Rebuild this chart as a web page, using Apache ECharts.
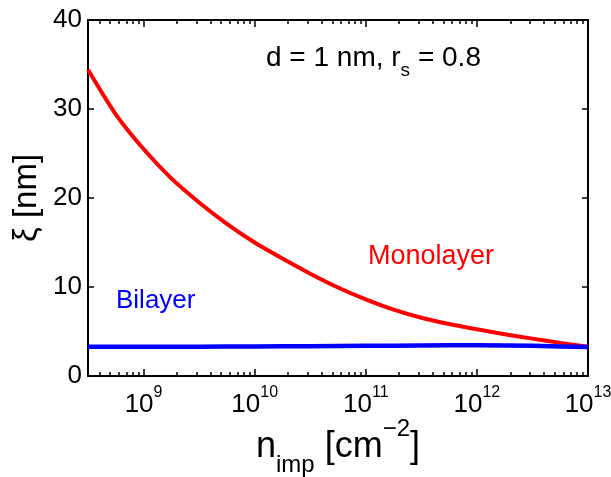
<!DOCTYPE html>
<html>
<head>
<meta charset="utf-8">
<script src="https://cdn.jsdelivr.net/npm/echarts@6/dist/echarts.min.js"></script>
<style>
  html, body { margin: 0; padding: 0; background: #fff; }
  #chart { width: 611px; height: 477px; }
</style>
</head>
<body>
<div id="chart"></div>
<script>
// impurity density (cm^-2), read at quarter decades
var nImp = [3.162e8, 5.623e8, 1e9, 1.778e9, 3.162e9, 5.623e9, 1e10, 1.778e10, 3.162e10, 5.623e10,
            1e11, 1.778e11, 3.162e11, 5.623e11, 1e12, 1.778e12, 3.162e12, 5.623e12, 1e13];
// xi (nm)
var monolayer = [34.4, 29.4, 25.5, 22.2, 19.5, 17.1, 15.0, 13.2, 11.5, 9.95,
                 8.6, 7.45, 6.55, 5.85, 5.25, 4.7, 4.2, 3.72, 3.3];
var bilayer = [3.3, 3.3, 3.3, 3.3, 3.3, 3.31, 3.32, 3.34, 3.35, 3.37,
               3.39, 3.41, 3.43, 3.45, 3.45, 3.43, 3.39, 3.32, 3.25];

var xMin = 316227766, xMax = 1e13;
var xMajor = [1e9, 1e10, 1e11, 1e12, 1e13];
var yTicks = [0, 10, 20, 30, 40];

// minor ticks 2..9 x 10^k
var xMinor = [];
[8, 9, 10, 11, 12].forEach(function (k) {
  for (var m = 2; m <= 9; m++) xMinor.push(m * Math.pow(10, k));
});

var black = '#000';
var chart = echarts.init(document.getElementById('chart'));

function xAxisDef(pos, ticks, len) {
  return {
    type: 'log', logBase: 10, min: xMin, max: xMax, position: pos,
    axisLine: { show: true, lineStyle: { color: black, width: 2 } },
    axisTick: { show: true, inside: true, length: len, customValues: ticks, lineStyle: { color: black, width: 1.5 } },
    axisLabel: { show: false },
    splitLine: { show: false }
  };
}

var xBottom = xAxisDef('bottom', xMajor, 7);
xBottom.axisLabel = {
  show: true, customValues: xMajor, margin: 9,
  formatter: function (v) {
    return '{b|10}{e|' + Math.round(Math.log10(v)) + '}';
  },
  rich: {
    b: { fontFamily: 'Liberation Sans', fontSize: 26, color: black, lineHeight: 40, verticalAlign: 'middle' },
    e: { fontFamily: 'Liberation Sans', fontSize: 16, color: black, verticalAlign: 'top' }
  }
};
xBottom.name = '{a|n}{s|imp}{a| [cm}{p|\u22122}{a|]}';
xBottom.nameLocation = 'middle';
xBottom.nameGap = 41;
xBottom.nameMoveOverlap = false;
xBottom.nameTextStyle = {
  rich: {
    a: { fontFamily: 'Liberation Sans', fontSize: 36, color: black, lineHeight: 60, verticalAlign: 'middle' },
    s: { fontFamily: 'Liberation Sans', fontSize: 24, color: black, verticalAlign: 'bottom' },
    p: { fontFamily: 'Liberation Sans', fontSize: 24, color: black, verticalAlign: 'top' }
  }
};

function yAxisDef(pos, labels) {
  return {
    type: 'value', min: 0, max: 40, interval: 10, position: pos,
    axisLine: { show: true, lineStyle: { color: black, width: 2 } },
    axisTick: { show: true, inside: true, length: 6, lineStyle: { color: black, width: 1.5 } },
    axisLabel: { show: labels, margin: 6, fontFamily: 'Liberation Sans', fontSize: 26, color: black },
    splitLine: { show: false }
  };
}
var yLeft = yAxisDef('left', true);
yLeft.name = '\u03be [nm]';
yLeft.nameLocation = 'middle';
yLeft.nameGap = 45;
yLeft.nameMoveOverlap = false;
yLeft.nameTextStyle = { fontFamily: 'Liberation Sans', fontSize: 33, color: black };

var option = {
  backgroundColor: '#fff',
  animation: false,
  grid: { left: 88, right: 23, top: 20, bottom: 101, containLabel: false, outerBoundsMode: 'none' },
  xAxis: [
    xBottom,
    xAxisDef('bottom', xMinor, 4),
    xAxisDef('top', xMajor, 7),
    xAxisDef('top', xMinor, 4)
  ],
  yAxis: [yLeft, yAxisDef('right', false)],
  graphic: [
    {
      type: 'text', left: 266, top: 44,
      style: {
        text: '{a|d = 1 nm, r}{s|s}{a| = 0.8}',
        rich: {
          a: { fontFamily: 'Liberation Sans', fontSize: 28, fill: black, lineHeight: 44, verticalAlign: 'middle' },
          s: { fontFamily: 'Liberation Sans', fontSize: 19, fill: black, verticalAlign: 'bottom' }
        }
      }
    },
    {
      type: 'text', left: 368, top: 243,
      style: { text: 'Monolayer', fontFamily: 'Liberation Sans', fontSize: 27, fill: '#ff0000' }
    },
    {
      type: 'text', left: 116, top: 288,
      style: { text: 'Bilayer', fontFamily: 'Liberation Sans', fontSize: 26, fill: '#0000ff' }
    }
  ],
  series: [
    {
      name: 'Monolayer', type: 'line', xAxisIndex: 0, yAxisIndex: 0,
      data: nImp.map(function (n, i) { return [n, monolayer[i]]; }),
      showSymbol: false, smooth: 0.25, z: 3,
      lineStyle: { color: '#ff0000', width: 4 }
    },
    {
      name: 'Bilayer', type: 'line', xAxisIndex: 0, yAxisIndex: 0,
      data: nImp.map(function (n, i) { return [n, bilayer[i]]; }),
      showSymbol: false, smooth: false, z: 4,
      lineStyle: { color: '#0000ff', width: 4.5 }
    }
  ]
};
chart.setOption(option);
</script>
</body>
</html>
